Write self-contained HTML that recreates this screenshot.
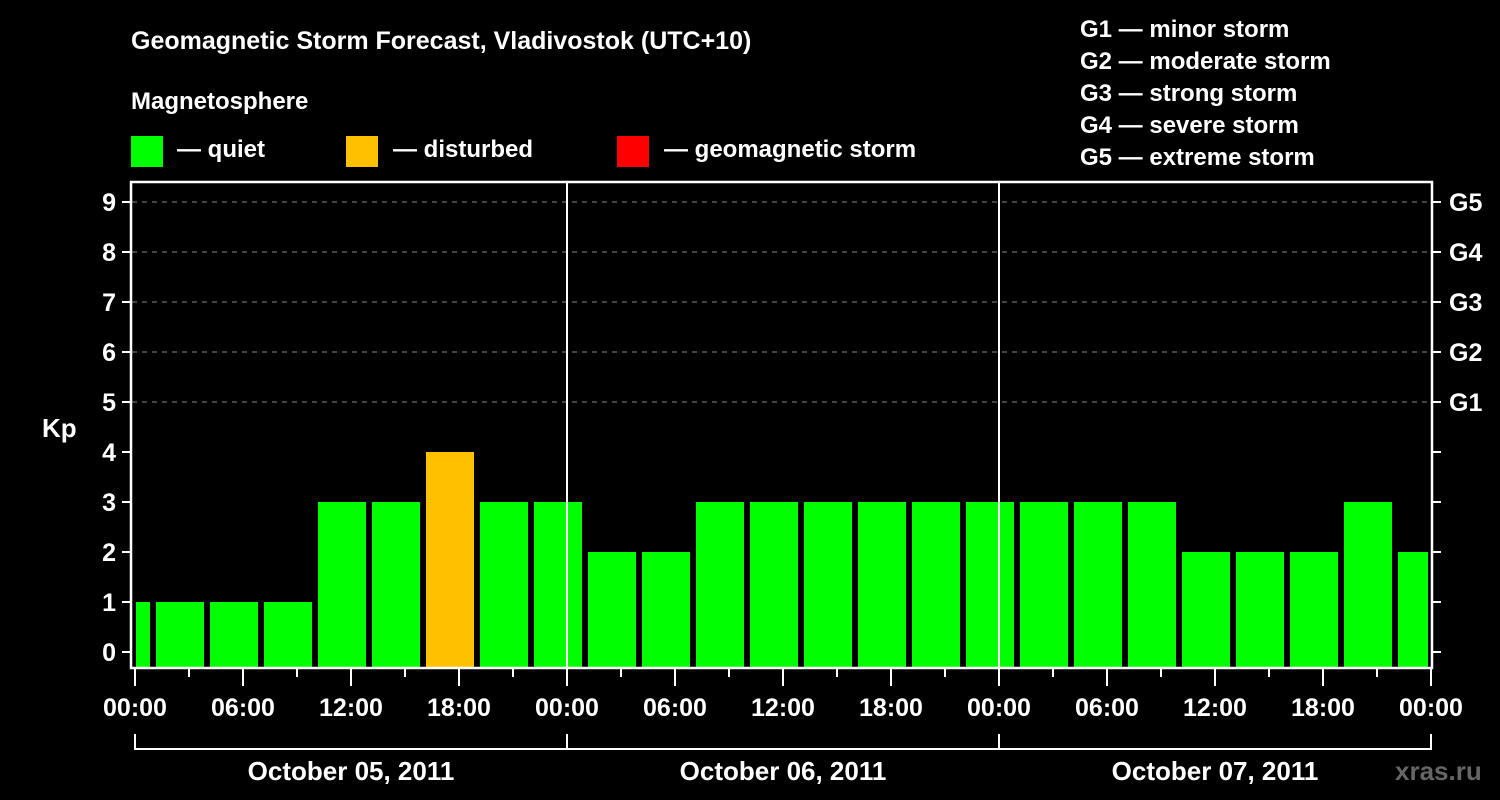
<!DOCTYPE html>
<html><head><meta charset="utf-8"><style>
html,body{margin:0;padding:0;background:#000;}
svg{display:block;font-family:"Liberation Sans",sans-serif;font-weight:bold;}
</style></head><body>
<svg id="chart" width="1500" height="800" viewBox="0 0 1500 800">
<rect width="1500" height="800" fill="#000"/>
<text x="131" y="49" fill="#fff" font-size="25">Geomagnetic Storm Forecast, Vladivostok (UTC+10)</text>
<text x="131" y="109" fill="#fff" font-size="24">Magnetosphere</text>
<g>
<rect x="131" y="136" width="32" height="31" fill="#00ff00"/>
<text x="177" y="157" fill="#fff" font-size="24">— quiet</text>
<rect x="346" y="136" width="32" height="31" fill="#ffc000"/>
<text x="393" y="157" fill="#fff" font-size="24">— disturbed</text>
<rect x="617" y="136" width="32" height="31" fill="#ff0000"/>
<text x="664" y="157" fill="#fff" font-size="24">— geomagnetic storm</text>
</g>
<g fill="#fff" font-size="24">
<text x="1080" y="37">G1 — minor storm</text>
<text x="1080" y="69">G2 — moderate storm</text>
<text x="1080" y="101">G3 — strong storm</text>
<text x="1080" y="133">G4 — severe storm</text>
<text x="1080" y="165">G5 — extreme storm</text>
</g>
<text x="42" y="437" fill="#fff" font-size="26">Kp</text>
<text x="1395" y="780" fill="#666" font-size="26">xras.ru</text>
<defs><clipPath id="pc"><rect x="136" y="182" width="1292" height="486"/></clipPath></defs>
<g id="grid"></g>
<g id="bars" clip-path="url(#pc)"></g>
<g id="axes"></g>
</svg>
<script>
const barHours=[-0.5,2.5,5.5,8.5,11.5,14.5,17.5,20.5,23.5,26.5,29.5,32.5,35.5,38.5,41.5,44.5,47.5,50.5,53.5,56.5,59.5,62.5,65.5,68.5,71.5];
const kpValues=[1,1,1,1,3,3,4,3,3,2,2,3,3,3,3,3,3,3,3,3,2,2,2,3,2];
const yTicks=[0,1,2,3,4,5,6,7,8,9];
const gLabels=["G1","G2","G3","G4","G5"];
const gLevels=[5,6,7,8,9];
const timeLabels=["00:00","06:00","12:00","18:00","00:00","06:00","12:00","18:00","00:00","06:00","12:00","18:00","00:00"];
const dateLabels=["October 05, 2011","October 06, 2011","October 07, 2011"];
const NS="http://www.w3.org/2000/svg";
const x=h=>135+18*h;
const y=k=>652-50*k;
function mk(parent,tag,attrs){const e=document.createElementNS(NS,tag);for(const k in attrs)e.setAttribute(k,attrs[k]);document.getElementById(parent).appendChild(e);return e;}
const color=k=>k>=5?"#ff0000":(k>=4?"#ffc000":"#00ff00");
// grid
gLevels.forEach(g=>{
 const l=mk("grid","line",{x1:132,x2:1432,y1:y(g),y2:y(g),stroke:"#888","stroke-width":1,"stroke-dasharray":"5,5"});
 
 
});
// bars
barHours.forEach((h,i)=>{
 const v=kpValues[i];
 const r=mk("bars","rect",{x:x(h)-24,y:y(v),width:48,height:668-y(v),fill:color(v)});
 
 
});
// day separators
[24,48].forEach(h=>{
 const l=mk("axes","line",{x1:x(h),x2:x(h),y1:182,y2:668,stroke:"#fff","stroke-width":2});
 
 
});
// frame
const fr=mk("axes","rect",{x:131,y:182,width:1301,height:486,fill:"none",stroke:"#fff","stroke-width":2.5});


// y ticks
yTicks.forEach(k=>{
 const t=mk("axes","line",{x1:122,x2:131,y1:y(k),y2:y(k),stroke:"#fff","stroke-width":2});
 
 
 const tr=mk("axes","line",{x1:1432,x2:1441,y1:y(k),y2:y(k),stroke:"#fff","stroke-width":2});
 
 
 const lb=mk("axes","text",{x:116,y:y(k)+9,fill:"#fff","font-size":25,"text-anchor":"end"});
 lb.textContent=k;
 
 
});
gLabels.forEach((g,i)=>{
 const lb=mk("axes","text",{x:1449,y:y(gLevels[i])+9,fill:"#fff","font-size":25});
 lb.textContent=g;
 
 
});
// x ticks
for(let h=0;h<=72;h+=3){
 const major=h%6===0;
 const t=mk("axes","line",{x1:x(h),x2:x(h),y1:668,y2:major?686:677,stroke:"#fff","stroke-width":2});
 
 
}
timeLabels.forEach((s,i)=>{
 const lb=mk("axes","text",{x:x(i*6),y:716,fill:"#fff","font-size":25,"text-anchor":"middle"});
 lb.textContent=s;
 
 
});
const br=mk("axes","path",{d:"M"+x(0)+",734V749H"+x(72)+"V734",fill:"none",stroke:"#fff","stroke-width":2});


[24,48].forEach(h=>{
 const l=mk("axes","line",{x1:x(h),x2:x(h),y1:734,y2:749,stroke:"#fff","stroke-width":2});
 
 
});
dateLabels.forEach((s,i)=>{
 const lb=mk("axes","text",{x:x(i*24+12),y:780,fill:"#fff","font-size":26,"text-anchor":"middle"});
 lb.textContent=s;
 
 
});
</script>
</body></html>
